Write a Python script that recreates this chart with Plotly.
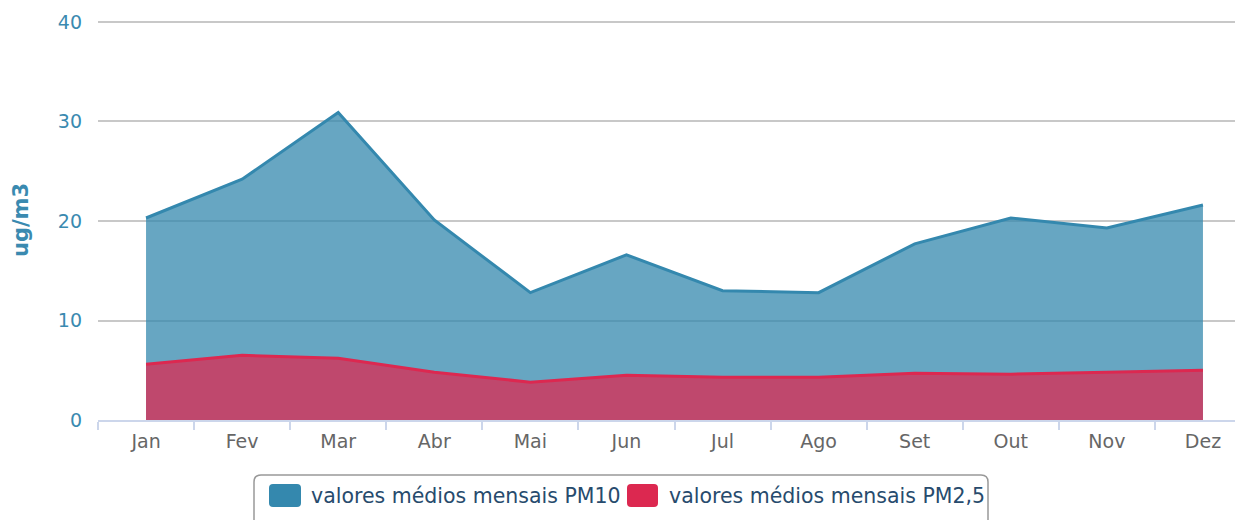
import plotly.graph_objects as go

months = ["Jan", "Fev", "Mar", "Abr", "Mai", "Jun", "Jul", "Ago", "Set", "Out", "Nov", "Dez"]
pm10 = [20.3, 24.2, 30.9, 20.1, 12.8, 16.6, 13.0, 12.8, 17.7, 20.3, 19.3, 21.6]
pm25 = [5.6, 6.5, 6.2, 4.8, 3.8, 4.5, 4.3, 4.3, 4.7, 4.6, 4.8, 5.0]
name10 = "valores médios mensais PM10"
name25 = "valores médios mensais PM2,5"

blue = "rgb(52,136,174)"
red = "rgb(220,40,80)"
font = "DejaVu Sans"

W, H = 1243, 520
OFF = 8  # page body margin
ML, MR, MT, MB = 90, 0, 12, 108
pw, ph = W - ML - MR, H - MT - MB


def px(sx):
    return (sx - OFF - ML) / pw


def py(sy):
    return (MT + ph - (sy - OFF)) / ph


def rrect(sx0, sy0, sx1, sy1, r):
    x0, x1, y0, y1 = px(sx0), px(sx1), py(sy0), py(sy1)
    rx, ry = r / pw, r / ph
    return (f"M {x0+rx},{y0} L {x1-rx},{y0} Q {x1},{y0} {x1},{y0-ry} "
            f"L {x1},{y1+ry} Q {x1},{y1} {x1-rx},{y1} L {x0+rx},{y1} "
            f"Q {x0},{y1} {x0},{y1+ry} L {x0},{y0-ry} Q {x0},{y0} {x0+rx},{y0} Z")


fig = go.Figure()
fig.add_trace(go.Scatter(x=months, y=pm10, mode="lines", fill="tozeroy", name=name10,
                         line=dict(color=blue, width=3),
                         fillcolor="rgba(52,136,174,0.75)", showlegend=False))
fig.add_trace(go.Scatter(x=months, y=pm25, mode="lines", fill="tozeroy", name=name25,
                         line=dict(color=red, width=3),
                         fillcolor="rgba(220,40,80,0.75)", showlegend=False))

# legend (drawn): frame, symbols, labels
fig.add_shape(type="path", path=rrect(254, 475, 988, 560, 7), xref="paper", yref="paper",
              line=dict(color="#999999", width=1.5), fillcolor="rgba(0,0,0,0)")
for (sx0, sx1, col, tx, label) in [(269, 301, blue, 309, name10), (627, 658, red, 667, name25)]:
    fig.add_shape(type="path", path=rrect(sx0, 484, sx1, 507, 4), xref="paper", yref="paper",
                  line=dict(width=0), fillcolor=col)
    fig.add_annotation(x=px(tx), y=py(495.5), xref="paper", yref="paper", text=label,
                       showarrow=False, xanchor="left", yanchor="middle",
                       font=dict(size=20.5, color="#274b6d", family=font))

fig.update_layout(
    width=W, height=H,
    margin=dict(l=ML, r=MR, t=MT, b=MB, autoexpand=False),
    plot_bgcolor="white", paper_bgcolor="white",
    font=dict(family=font, size=19, color="#666666"),
    showlegend=False,
)
fig.update_xaxes(type="category", range=[-0.5, 11.5], showgrid=False, automargin=False,
                 tickson="boundaries", ticks="outside", ticklen=8, tickwidth=1.5,
                 tickcolor="#ccd6eb", showline=True, linecolor="#ccd6eb", linewidth=2,
                 ticklabelstandoff=3,
                 tickfont=dict(size=19, color="#666666"))
fig.update_yaxes(range=[0, 40.2], tickvals=[0, 10, 20, 30, 40], showgrid=True,
                 gridcolor="#c8c8c8", gridwidth=1.5, automargin=False,
                 zeroline=False, showline=False, ticklabelstandoff=15,
                 tickfont=dict(size=19, color="#3a8ab0"),
                 title=dict(text="<b>ug/m3</b>", font=dict(size=21, color="#3a8ab0"), standoff=23))

fig.write_html("out.html")
